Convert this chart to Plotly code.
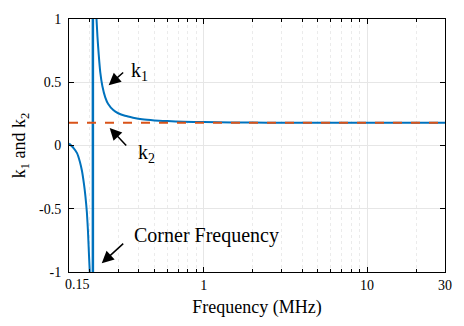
import plotly.graph_objects as go

# Data
freq_left = [0.15, 0.16, 0.168, 0.175, 0.18, 0.185, 0.189, 0.193, 0.196, 0.199, 0.201]
k1_left = [0.015, -0.02, -0.06, -0.13, -0.20, -0.30, -0.40, -0.53, -0.68, -0.88, -1.0]

freq_right = [0.221, 0.224, 0.228, 0.233, 0.24, 0.25, 0.26, 0.28, 0.30, 0.33, 0.37,
              0.42, 0.5, 0.6, 0.75, 1, 1.5, 2, 3, 5, 10, 20, 30]
k1_right = [1.0, 0.86, 0.72, 0.58, 0.47, 0.38, 0.33, 0.28, 0.255, 0.235, 0.22,
            0.207, 0.198, 0.193, 0.188, 0.185, 0.182, 0.181, 0.18, 0.18, 0.18, 0.18, 0.18]

corner_freq = 0.21
corner_span = [-1, 1]

freq_k2 = [0.15, 30]
k2 = [0.18, 0.18]

x_ticks = [0.15, 1, 10, 30]
x_ticklabels = ["", "1", "10", "30"]
x_first_label = "0.15"
x_minor = [0.2, 0.3, 0.4, 0.5, 0.6, 0.7, 0.8, 0.9, 2, 3, 4, 5, 6, 7, 8, 9, 20]
y_ticks = [-1, -0.5, 0, 0.5, 1]
y_ticklabels = ["-1", "-0.5", "0", "0.5", "1"]

BLUE = "#0072BD"
ORANGE = "#D95319"
FONT = "'Liberation Serif', 'Times New Roman', serif"

fig = go.Figure()
fig.add_trace(go.Scatter(x=freq_left, y=k1_left, mode="lines",
                         line=dict(color=BLUE, width=2, shape="spline", smoothing=0.6)))
fig.add_trace(go.Scatter(x=freq_right, y=k1_right, mode="lines",
                         line=dict(color=BLUE, width=2, shape="spline", smoothing=0.6)))
fig.add_trace(go.Scatter(x=[corner_freq, corner_freq], y=corner_span, mode="lines",
                         line=dict(color=BLUE, width=2.5)))
fig.add_trace(go.Scatter(x=freq_k2, y=k2, mode="lines",
                         line=dict(color=ORANGE, width=2, dash="dash")))

L, R, T, B = 69, 448, 12, 272
W, H = R - L, B - T


def px(xp, yp):
    return (xp - L) / W, (B - yp) / H


annotations = []
# arrows (head, tail)
for head, tail in [((109, 80), (125, 66)), ((110, 124), (128, 143)), ((102, 263), (125, 242))]:
    hx, hy = px(*head)
    annotations.append(dict(x=hx, y=hy, xref="paper", yref="paper", text="",
                            showarrow=True, arrowhead=2, arrowsize=1.6, arrowwidth=1.5,
                            arrowcolor="black", ax=tail[0] - head[0], ay=tail[1] - head[1]))
for txt, pos in [("k<sub>1</sub>", (140, 66)), ("k<sub>2</sub>", (147, 150)),
                 ("Corner Frequency", (208, 234))]:
    x, y = px(*pos)
    annotations.append(dict(x=x, y=y, xref="paper", yref="paper", text=txt, showarrow=False,
                            xanchor="center", yanchor="middle",
                            font=dict(family=FONT, size=20, color="black")))
# first x tick label, nudged right as in the reference
x0, y0 = px(78, 285)
annotations.append(dict(x=x0, y=y0, xref="paper", yref="paper", text=x_first_label,
                        showarrow=False, xanchor="center", yanchor="middle",
                        font=dict(family=FONT, size=14, color="black")))

fig.update_layout(
    width=464, height=326,
    margin=dict(l=L, r=464 - R, t=T, b=326 - B),
    paper_bgcolor="white", plot_bgcolor="white",
    showlegend=False,
    font=dict(family=FONT, size=14, color="black"),
    annotations=annotations,
)
fig.update_xaxes(
    type="log", range=[-0.8239087, 1.4771213],
    tickmode="array", tickvals=x_ticks, ticktext=x_ticklabels,
    ticks="inside", ticklen=5, tickcolor="black",
    tickfont=dict(family=FONT, size=14),
    showline=True, linecolor="black", linewidth=1, mirror="ticks",
    showgrid=True, gridcolor="#e6e6e6", gridwidth=1,
    minor=dict(tickmode="array", tickvals=x_minor, ticks="inside", ticklen=3,
               tickcolor="black", showgrid=True, gridcolor="#ebebeb", griddash="dot"),
    zeroline=False,
    title=dict(text="Frequency (MHz)", font=dict(family=FONT, size=18), standoff=8),
)
fig.update_yaxes(
    range=[-1, 1], tickmode="array", tickvals=y_ticks, ticktext=y_ticklabels,
    ticks="inside", ticklen=5, tickcolor="black",
    tickfont=dict(family=FONT, size=14),
    showline=True, linecolor="black", linewidth=1, mirror="ticks",
    showgrid=True, gridcolor="#e6e6e6", gridwidth=1, zeroline=False,
    ticklabelstandoff=4,
    title=dict(text="k<sub>1</sub> and k<sub>2</sub>", font=dict(family=FONT, size=18), standoff=8),
)

fig.write_html("out.html")
